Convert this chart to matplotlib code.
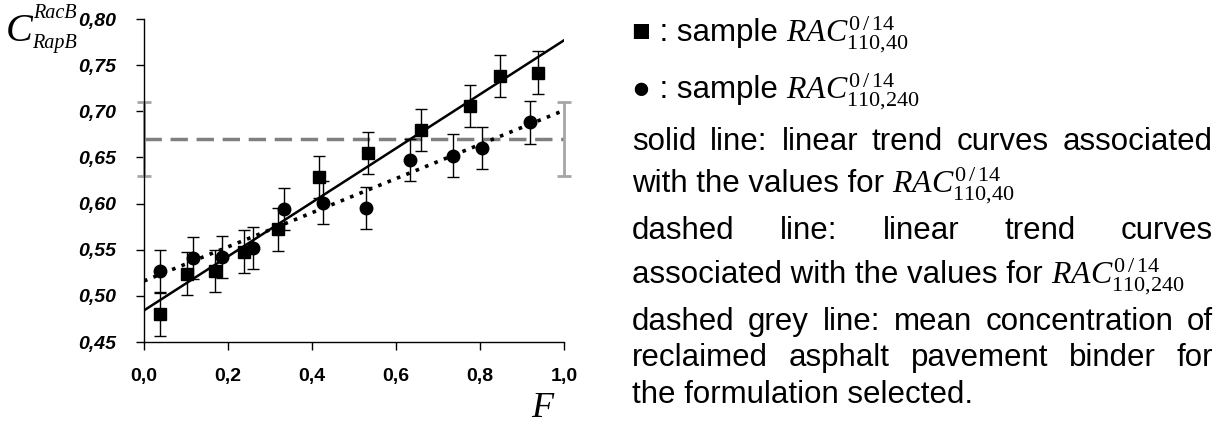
import numpy as np
import matplotlib
matplotlib.use("Agg")
import matplotlib.pyplot as plt
from matplotlib.transforms import IdentityTransform
from matplotlib.ticker import FuncFormatter

plt.rcParams['mathtext.fontset'] = 'custom'
plt.rcParams['mathtext.rm'] = 'Liberation Serif'
plt.rcParams['mathtext.it'] = 'Liberation Serif:italic'

# data
f_sq = [0.039, 0.103, 0.168, 0.238, 0.318, 0.416, 0.534, 0.659, 0.777, 0.847, 0.939]
c_sq = [0.480, 0.524, 0.527, 0.548, 0.572, 0.629, 0.655, 0.680, 0.706, 0.738, 0.742]
f_ci = [0.039, 0.117, 0.185, 0.259, 0.334, 0.427, 0.529, 0.634, 0.736, 0.805, 0.919]
c_ci = [0.527, 0.541, 0.542, 0.552, 0.594, 0.601, 0.595, 0.647, 0.652, 0.660, 0.688]
err = 0.023
mean_conc = 0.67
mean_err = 0.04
yticks = [0.45, 0.50, 0.55, 0.60, 0.65, 0.70, 0.75, 0.80]
xticks = [0.0, 0.2, 0.4, 0.6, 0.8, 1.0]

W, H = 1224, 423
fig = plt.figure(figsize=(W / 100, H / 100), dpi=100)
ax = fig.add_axes([144 / W, 1 - 342 / H, 420 / W, 323 / H])

# mean line of the RAP binder with its band
ax.plot([0, 1], [mean_conc, mean_conc], color='#808080', lw=2.5,
        dashes=(5, 2.5), zorder=1, clip_on=False)
ax.errorbar([0, 1], [mean_conc, mean_conc], yerr=mean_err, fmt='none',
            ecolor='#a6a6a6', elinewidth=2, capsize=5, capthick=2, clip_on=False)

# trend lines
xx = np.array([0.0, 1.0])
p_sq = np.polyfit(f_sq, c_sq, 1)
p_ci = np.polyfit(f_ci, c_ci, 1)
ax.plot(xx, np.polyval(p_sq, xx), color='black', lw=1.8, zorder=2)
ax.plot(xx, np.polyval(p_ci, xx), color='black', lw=2.6, dashes=(1, 1.8), zorder=2)

# samples
ax.errorbar(f_sq, c_sq, yerr=err, fmt='s', color='black', ms=8, ecolor='black',
            elinewidth=1, capsize=4, capthick=1, zorder=3)
ax.errorbar(f_ci, c_ci, yerr=err, fmt='o', color='black', ms=9, ecolor='black',
            elinewidth=1, capsize=4, capthick=1, zorder=3)

ax.set_xlim(0, 1)
ax.set_ylim(0.45, 0.80)
ax.set_xticks(xticks)
ax.set_yticks(yticks)
ax.xaxis.set_major_formatter(FuncFormatter(lambda v, p: f"{v:.1f}".replace('.', ',')))
ax.yaxis.set_major_formatter(FuncFormatter(lambda v, p: f"{v:.2f}".replace('.', ',')))
for s in ['top', 'right']:
    ax.spines[s].set_visible(False)
for s in ['left', 'bottom']:
    ax.spines[s].set_linewidth(1)
ax.tick_params(direction='out', length=6, width=1)
ax.tick_params(axis='y', pad=14)
ax.tick_params(axis='x', pad=13)
for lab in ax.get_yticklabels():
    lab.set_fontfamily('Liberation Sans')
    lab.set_fontweight('bold')
    lab.set_fontstyle('italic')
    lab.set_fontsize(14)
for lab in ax.get_xticklabels():
    lab.set_fontfamily('Liberation Sans')
    lab.set_fontweight('bold')
    lab.set_fontsize(14)

# axis titles
T = IdentityTransform()
fig.text(6, H - 31, 'C', transform=T, family='Liberation Serif', style='italic',
         fontsize=29, va='center', ha='left')
fig.text(33, H - 13, 'RacB', transform=T, family='Liberation Serif', style='italic',
         fontsize=14.5, va='center', ha='left')
fig.text(32, H - 43, 'RapB', transform=T, family='Liberation Serif', style='italic',
         fontsize=14.5, va='center', ha='left')
fig.text(542, H - 408, 'F', transform=T, family='Liberation Serif', style='italic',
         fontsize=26, va='center', ha='center')

# caption block on the right
renderer = fig.canvas.get_renderer()
X0, X1 = 632, 1213
SANS = ['Liberation Sans', 'DejaVu Sans']

# size the caption font so the last (unjustified) line spans like the original
probe = fig.text(0, 0, 'the formulation selected.', family=SANS, fontsize=20)
FS = 20 * 339 / probe.get_window_extent(renderer).width
probe.remove()


def width(t):
    return t.get_window_extent(renderer).width


def put(x, y, s, **kw):
    return fig.text(x, H - y, s, transform=T, va='center', ha='left', **kw)


def justified(y, words):
    ts = [put(0, y, w, family=SANS, fontsize=FS) for w in words]
    ws = [width(t) for t in ts]
    gap = (X1 - X0 - sum(ws)) / (len(ws) - 1)
    x = X0
    for t, w in zip(ts, ws):
        t.set_x(x)
        x += w + gap


def with_rac(y, prefix, sub):
    t = put(X0, y, prefix, family=SANS, fontsize=FS)
    x = X0 + width(t) + 8
    put(x, y + 2, r'$RAC^{0\,/\,14}_{%s}$' % sub, fontsize=FS * 1.02)


with_rac(33, '\u25a0 : sample', '110{,}40')
with_rac(90, '\u25cf : sample', '110{,}240')
justified(142, ['solid', 'line:', 'linear', 'trend', 'curves', 'associated'])
with_rac(184, 'with the values for', '110{,}40')
justified(231, ['dashed', 'line:', 'linear', 'trend', 'curves'])
with_rac(275, 'associated with the values for', '110{,}240')
justified(322, ['dashed', 'grey', 'line:', 'mean', 'concentration', 'of'])
justified(358, ['reclaimed', 'asphalt', 'pavement', 'binder', 'for'])
put(X0, 395, 'the formulation selected.', family=SANS, fontsize=FS)

fig.savefig('out.png', dpi=100)
